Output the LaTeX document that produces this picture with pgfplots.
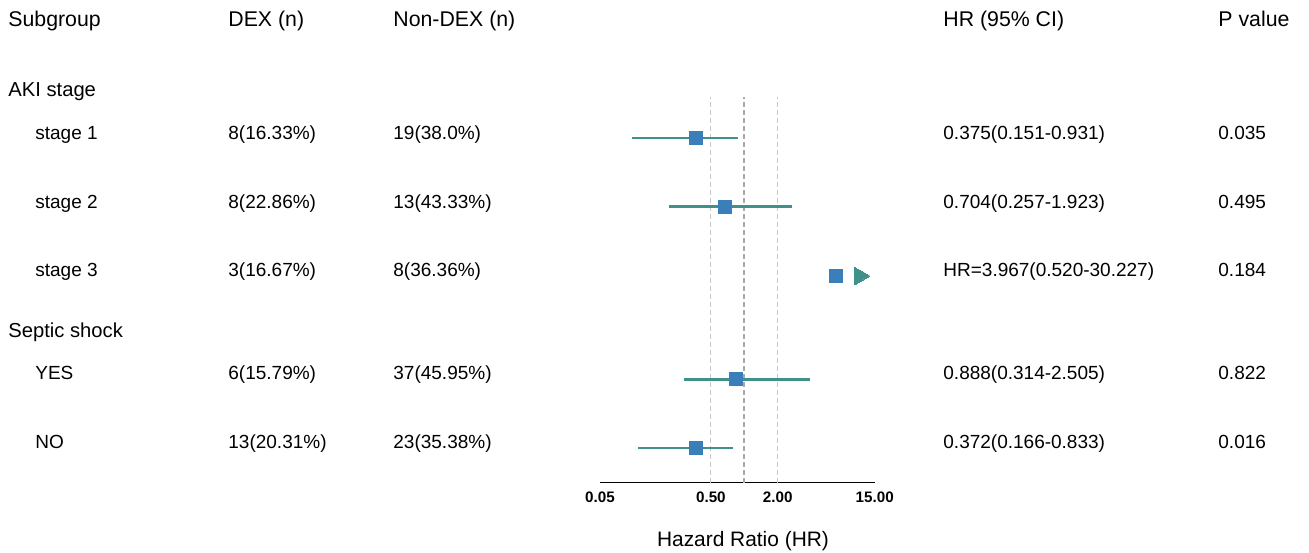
\documentclass[border=0pt]{standalone}
\usepackage{pgfplots}
\pgfplotsset{compat=1.18}
\usepackage{fontspec}
\setmainfont{Liberation Sans}
\definecolor{citeal}{HTML}{3F918A}
\definecolor{sqblue}{HTML}{3A7EBA}
\definecolor{reflight}{HTML}{C8C8C8}
\definecolor{refdark}{HTML}{A9A9A9}
\newcommand\hf{\fontsize{10.65pt}{13pt}\selectfont}
\newcommand\gf{\fontsize{10.1pt}{12pt}\selectfont}
\newcommand\rf{\fontsize{9.5pt}{11pt}\selectfont}
\begin{document}
\begin{tikzpicture}[x=0.5pt,y=0.5pt]
\useasboundingbox (0,0) rectangle (1309,552);
\begin{axis}[
  at={(300pt,34.65pt)}, anchor=south west,
  scale only axis, width=137.35pt, height=192.85pt,
  xmode=log, xmin=0.05, xmax=15, ymin=69.3, ymax=455,
  axis x line*=bottom, axis y line=none,
  xtick={0.05,0.5,2,15},
  xticklabels={\textbf{0.05},\textbf{0.50},\textbf{2.00},\textbf{15.00}},
  minor xtick={}, tick style={draw=none},
  major tick length=0pt, minor tick length=0pt,
  xticklabel style={font=\fontsize{7.6pt}{9pt}\selectfont, anchor=base, yshift=-9.8pt, inner sep=0pt},
  x axis line style={black, line width=0.6pt, -},
  clip=false,
]
% reference lines
\addplot[reflight, line width=0.5pt, dash pattern=on 2.3pt off 1.7pt] coordinates {(0.5,69.3) (0.5,455)};
\addplot[refdark, line width=0.8pt, dash pattern=on 2.3pt off 1.7pt] coordinates {(1,69.3) (1,455)};
\addplot[reflight, line width=0.5pt, dash pattern=on 2.3pt off 1.7pt] coordinates {(2,69.3) (2,455)};
% confidence intervals
\addplot[citeal, line width=1.3pt] coordinates {(0.0966,414) (0.878,414)};
\addplot[citeal, line width=1.3pt] coordinates {(0.2083,345.3) (2.71,345.3)};
\addplot[citeal, line width=1.3pt] coordinates {(0.286,172.7) (3.94,172.7)};
\addplot[citeal, line width=1.3pt] coordinates {(0.1107,104) (0.786,104)};
% point estimates
\addplot[sqblue, only marks, mark=square*, mark size=3.2pt, mark options={fill=sqblue, draw=sqblue, line width=0pt}]
  coordinates {(0.367,414) (0.670,345.3) (6.71,276) (0.842,172.7) (0.367,104)};
% arrow (stage 3)
\addplot[citeal, only marks, mark=triangle*, mark size=5pt, mark options={rotate=-90, fill=citeal, draw=citeal, line width=0pt}]
  coordinates {(11.05,276)};
\end{axis}
\tikzset{hx/.style={anchor=base west, inner sep=0pt, font=\hf},
         gx/.style={anchor=base west, inner sep=0pt, font=\gf},
         tx/.style={anchor=base west, inner sep=0pt, font=\rf}}
% header
\node[hx] at (8,525) {Subgroup};
\node[hx] at (228,525) {DEX (n)};
\node[hx] at (393,525) {Non-DEX (n)};
\node[hx] at (943,525) {HR (95\% CI)};
\node[hx] at (1218,525) {P value};
% group AKI
\node[gx] at (8,455) {AKI stage};
\node[tx] at (35,412) {stage 1};
\node[tx] at (228,412) {8(16.33\%)};
\node[tx] at (393,412) {19(38.0\%)};
\node[tx] at (943,412) {0.375(0.151-0.931)};
\node[tx] at (1218,412) {0.035};
\node[tx] at (35,343.5) {stage 2};
\node[tx] at (228,343.5) {8(22.86\%)};
\node[tx] at (393,343.5) {13(43.33\%)};
\node[tx] at (943,343.5) {0.704(0.257-1.923)};
\node[tx] at (1218,343.5) {0.495};
\node[tx] at (35,275.5) {stage 3};
\node[tx] at (228,275.5) {3(16.67\%)};
\node[tx] at (393,275.5) {8(36.36\%)};
\node[tx] at (943,275.5) {HR=3.967(0.520-30.227)};
\node[tx] at (1218,275.5) {0.184};
% group septic shock
\node[gx] at (8,214.5) {Septic shock};
\node[tx] at (35,173) {YES};
\node[tx] at (228,173) {6(15.79\%)};
\node[tx] at (393,173) {37(45.95\%)};
\node[tx] at (943,173) {0.888(0.314-2.505)};
\node[tx] at (1218,173) {0.822};
\node[tx] at (35,104) {NO};
\node[tx] at (228,104) {13(20.31\%)};
\node[tx] at (393,104) {23(35.38\%)};
\node[tx] at (943,104) {0.372(0.166-0.833)};
\node[tx] at (1218,104) {0.016};
% x label
\node[anchor=base, inner sep=0pt, font=\fontsize{10.45pt}{13pt}\selectfont] at (743,6) {Hazard Ratio (HR)};
\end{tikzpicture}
\end{document}
